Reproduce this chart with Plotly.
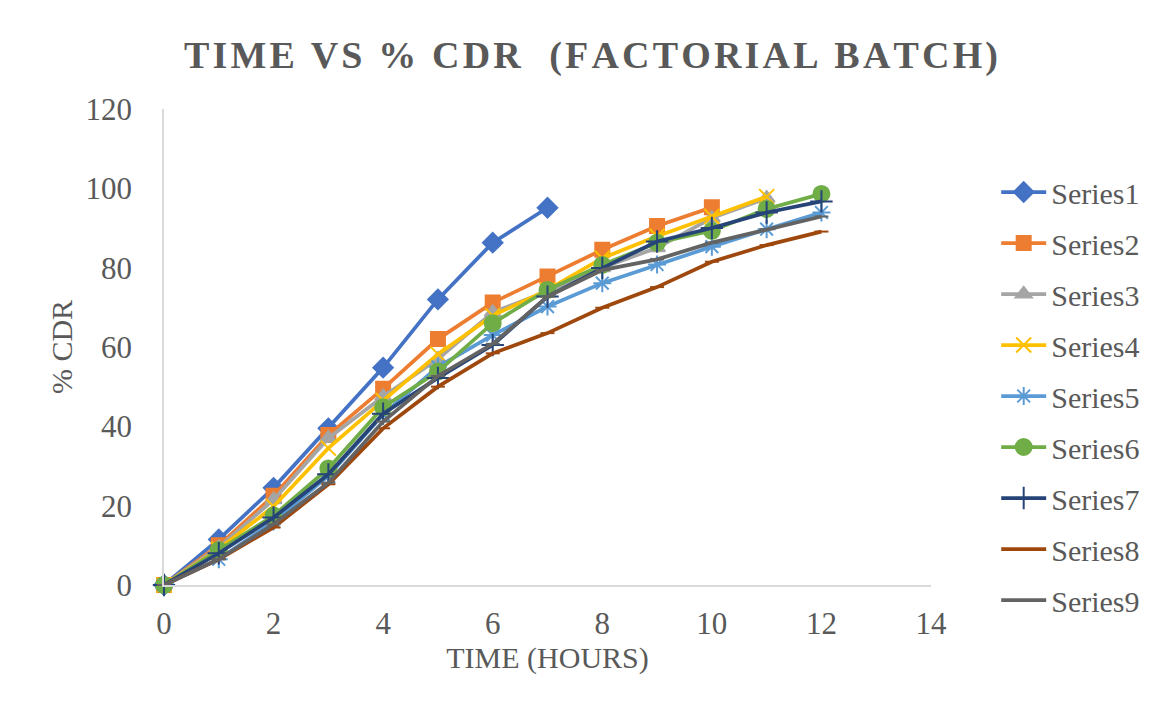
import plotly.graph_objects as go

series_names = ["Series1", "Series2", "Series3", "Series4", "Series5",
                "Series6", "Series7", "Series8", "Series9"]

s1 = [0, 11.5, 24.5, 39.5, 54.8, 72.0, 86.3, 95.1]
s2 = [0, 10.0, 22.5, 37.8, 49.5, 62.0, 71.2, 77.8, 84.5, 90.5, 95.2]
s3 = [0, 9.5, 21.5, 37.0, 47.5, 57.0, 68.7, 74.0, 80.0, 85.0, 92.5, 97.5]
s4 = [0, 9.0, 19.8, 34.5, 46.5, 58.2, 67.9, 74.4, 82.4, 87.9, 92.9, 97.9]
s5 = [0, 6.5, 16.0, 27.5, 43.0, 55.0, 63.0, 70.2, 76.1, 80.8, 85.3, 89.7, 93.9]
s6 = [0, 8.8, 17.5, 29.4, 44.8, 53.8, 66.0, 74.4, 80.7, 86.3, 89.3, 94.8, 98.6]
s7 = [0, 8.0, 17.0, 27.9, 43.2, 52.2, 60.5, 72.7, 79.9, 86.6, 90.0, 93.9, 96.7]
s8 = [0, 6.5, 14.5, 25.4, 39.5, 50.0, 58.4, 63.5, 69.9, 75.1, 81.5, 85.7, 89.1]
s9 = [0, 6.5, 15.3, 25.8, 41.2, 52.7, 60.8, 72.7, 79.4, 82.1, 86.3, 89.7, 92.9]

all_values = [s1, s2, s3, s4, s5, s6, s7, s8, s9]

colors = ["#4472C4", "#ED7D31", "#A5A5A5", "#FFC000", "#5B9BD5",
          "#70AD47", "#264478", "#9E480E", "#636363"]
symbols = ["diamond", "square", "triangle-up", "x-thin-open", "asterisk-open",
           "circle", "cross-thin-open", "line-ew-open", "line-ew-open"]
sizes = [15, 14, 14, 15, 15, 16, 16, 10, 10]

FONT = "Liberation Serif, Times New Roman, serif"
TXT = "#595959"

fig = go.Figure()
for i, (name, vals) in enumerate(zip(series_names, all_values)):
    fig.add_trace(go.Scatter(
        x=list(range(len(vals))), y=vals, name=name, mode="lines+markers",
        line=dict(color=colors[i], width=3.75),
        marker=dict(symbol=symbols[i], size=sizes[i], color=colors[i],
                    line=dict(color=colors[i], width=2)),
        legendgroup=name, cliponaxis=False,
    ))

title_text = "TIME VS % CDR  (FACTORIAL BATCH)"
title_spaced = "\u200a".join(ch if ch != " " else "\u00a0" for ch in title_text)

fig.update_layout(
    width=1157, height=711,
    margin=dict(l=164, r=219, t=109, b=126),
    paper_bgcolor="white", plot_bgcolor="white",
    font=dict(family=FONT, color=TXT, size=30),
    title=dict(text="<b>" + title_spaced + "</b>", x=591 / 1157, xanchor="center",
               xref="container", y=1 - 55 / 711, yanchor="middle", yref="container",
               font=dict(family=FONT, size=38, color=TXT)),
    showlegend=True,
    legend=dict(x=1.085, xanchor="left", y=1 - (166 - 109) / 476, yanchor="top",
                font=dict(family=FONT, size=30, color=TXT),
                traceorder="grouped", tracegroupgap=9, maxheight=650,
                bgcolor="rgba(0,0,0,0)", itemwidth=45),
    xaxis=dict(range=[0, 14], dtick=2, tick0=0, showgrid=False, zeroline=False,
               showline=True, linecolor="#D9D9D9", linewidth=1.5,
               ticks="", ticklabelstandoff=10,
               tickfont=dict(family=FONT, size=31, color=TXT),
               title=dict(text="TIME (HOURS)", standoff=6,
                          font=dict(family=FONT, size=30, color=TXT))),
    yaxis=dict(range=[0, 120], dtick=20, tick0=0, showgrid=False, zeroline=False,
               showline=True, linecolor="#D9D9D9", linewidth=1.5,
               ticks="", ticklabelstandoff=24,
               tickfont=dict(family=FONT, size=31, color=TXT),
               title=dict(text="% CDR", standoff=4,
                          font=dict(family=FONT, size=30, color=TXT))),
)

fig.write_html("out.html")
